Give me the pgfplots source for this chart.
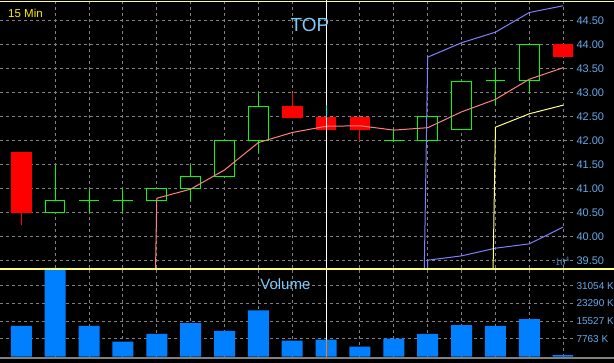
\documentclass[border=0pt]{standalone}
\usepackage{fontspec}
\setmainfont{Liberation Sans}
\usepackage{pgfplots}
\pgfplotsset{compat=1.18}
\definecolor{gridgray}{RGB}{128,128,128}
\definecolor{bull}{RGB}{0,255,0}
\definecolor{bear}{RGB}{255,0,0}
\definecolor{mapink}{RGB}{255,128,128}
\definecolor{bandblue}{RGB}{128,128,255}
\definecolor{bandyellow}{RGB}{255,255,128}
\definecolor{volblue}{RGB}{0,128,255}
\definecolor{ticklab}{RGB}{100,170,235}
\definecolor{titleblue}{RGB}{125,200,245}
\definecolor{sepyellow}{RGB}{255,255,128}
\definecolor{xorcyan}{RGB}{0,255,255}
\definecolor{xororange}{RGB}{255,127,0}

\pgfplotsset{
  panel/.style={
    scale only axis, width=573pt,
    xmin=-0.629, xmax=16.29,
    xtick={1,...,16}, xticklabels={},
    yticklabel pos=right,
    grid=major,
    major grid style={gridgray, line width=1pt, dash pattern=on 3pt off 3pt},
    major tick length=0pt,
    axis line style={draw=none},
  },
  bullline/.style={draw=bull, line width=1pt, mark=none},
  bearline/.style={draw=bear, line width=1pt, mark=none},
}

\begin{document}
\begin{tikzpicture}
\fill[black] (0,0) rectangle (614pt,363pt);

% ---------------- price panel ----------------
\begin{axis}[panel, name=main, at={(0,95pt)}, anchor=south west, height=268pt,
  ymin=39.348, ymax=44.931,
  ytick={39.5,40,40.5,41,41.5,42,42.5,43,43.5,44,44.5},
  yticklabels={39.50,40.00,40.50,41.00,41.50,42.00,42.50,43.00,43.50,44.00,44.50},
  yticklabel style={font=\fontsize{11}{13}\selectfont, text=ticklab},
]
% ---- wicks (high-low lines) ----
\addplot[bearline] coordinates {(0,40.25) (0,41.75)};
\addplot[bullline] coordinates {(1,40.5) (1,41.5)};
\addplot[bullline] coordinates {(2,40.5) (2,41.0)};
\addplot[bullline] coordinates {(3,40.5) (3,41.0)};
\addplot[bullline] coordinates {(5,40.75) (5,41.5)};
\addplot[bullline] coordinates {(7,41.75) (7,43.0)};
\addplot[bearline] coordinates {(8,42.48) (8,43.0)};
\addplot[bearline] coordinates {(9,42.23) (9,42.75)};
\addplot[bearline] coordinates {(10,42.0) (10,42.48)};
\addplot[bullline] coordinates {(11,42.0) (11,42.25)};
\addplot[bullline] coordinates {(14,42.75) (14,43.5)};
\addplot[bullline] coordinates {(15,43.0) (15,44.0)};
% ---- bearish bodies (filled red) ----
\addplot[bearline, fill=bear] coordinates {(-0.29,40.5) (0.29,40.5) (0.29,41.75) (-0.29,41.75)} --cycle;
\addplot[bearline, fill=bear] coordinates {(7.71,42.48) (8.29,42.48) (8.29,42.72) (7.71,42.72)} --cycle;
\addplot[bearline, fill=bear] coordinates {(8.71,42.23) (9.29,42.23) (9.29,42.48) (8.71,42.48)} --cycle;
\addplot[bearline, fill=bear] coordinates {(9.71,42.23) (10.29,42.23) (10.29,42.48) (9.71,42.48)} --cycle;
\addplot[bearline, fill=bear] coordinates {(15.71,43.75) (16.29,43.75) (16.29,44.0) (15.71,44.0)} --cycle;
% ---- bullish / doji bodies (hollow green) ----
\addplot[bullline, fill=black] coordinates {(0.71,40.5) (1.29,40.5) (1.29,40.75) (0.71,40.75)} --cycle;
\addplot[bullline] coordinates {(1.71,40.75) (2.29,40.75)};
\addplot[bullline] coordinates {(2.71,40.75) (3.29,40.75)};
\addplot[bullline, fill=black] coordinates {(3.71,40.75) (4.29,40.75) (4.29,41.0) (3.71,41.0)} --cycle;
\addplot[bullline, fill=black] coordinates {(4.71,41.0) (5.29,41.0) (5.29,41.25) (4.71,41.25)} --cycle;
\addplot[bullline, fill=black] coordinates {(5.71,41.25) (6.29,41.25) (6.29,42.0) (5.71,42.0)} --cycle;
\addplot[bullline, fill=black] coordinates {(6.71,42.0) (7.29,42.0) (7.29,42.72) (6.71,42.72)} --cycle;
\addplot[bullline] coordinates {(10.71,42.0) (11.29,42.0)};
\addplot[bullline, fill=black] coordinates {(11.71,42.0) (12.29,42.0) (12.29,42.5) (11.71,42.5)} --cycle;
\addplot[bullline, fill=black] coordinates {(12.71,42.23) (13.29,42.23) (13.29,43.23) (12.71,43.23)} --cycle;
\addplot[bullline] coordinates {(13.71,43.25) (14.29,43.25)};
\addplot[bullline, fill=black] coordinates {(14.71,43.25) (15.29,43.25) (15.29,44.0) (14.71,44.0)} --cycle;

% moving average
\addplot[mapink, line width=1pt] coordinates {
 (3,0) (4,40.80) (5,40.99) (6,41.39) (7,41.96) (8,42.17) (9,42.30) (10,42.31)
 (11,42.22) (12,42.27) (13,42.60) (14,42.86) (15,43.28) (16,43.52)};
% upper band
\addplot[bandblue, line width=1pt] coordinates {
 (11,0) (12,43.74) (13,44.04) (14,44.26) (15,44.67) (16,44.81)};
% lower band
\addplot[bandblue, line width=1pt] coordinates {
 (11,0) (12,39.51) (13,39.60) (14,39.76) (15,39.85) (16,40.20)};
% yellow line
\addplot[bandyellow, line width=1pt] coordinates {
 (13,0) (14,42.28) (15,42.56) (16,42.74)};

% crosshair
\addplot[white, line width=1pt] coordinates {(9,39) (9,45)};
\addplot[xorcyan, line width=1pt] coordinates {(9,42.48) (9,42.75)};

\node[anchor=base west, text=yellow, font=\fontsize{11.5}{13}\selectfont] at (rel axis cs:0.0082,0.934) {15 Min};
\node[anchor=base, text=titleblue, font=\fontsize{19}{22}\selectfont] at (rel axis cs:0.541,0.884) {TOP};
\end{axis}

% ---------------- volume panel ----------------
\begin{axis}[panel, name=vol, at={(0,6.3pt)}, anchor=south west, height=88.7pt,
  ymin=0, ymax=38817,
  ytick={7763.5,15527,23290.5,31054},
  yticklabels={7763 K,15527 K,23290 K,31054 K},
  yticklabel style={font=\fontsize{10}{12}\selectfont, text=ticklab},
]
\addplot[ybar, bar width=0.62, fill=volblue, draw=none] coordinates {
 (0,13440) (1,38817) (2,13440) (3,6577) (4,10008) (5,14726) (6,11295) (7,20302)
 (8,7006) (9,7435) (10,4432) (11,7863) (12,10008) (13,13868) (14,13440) (15,16442) (16,700)};
\addplot[white, line width=1pt] coordinates {(9,0) (9,40000)};
\addplot[xororange, line width=1pt] coordinates {(9,0) (9,7435)};
\node[anchor=base, text=titleblue, font=\fontsize{15}{17}\selectfont] at (rel axis cs:0.498,0.763) {Volume};
\end{axis}

\draw[sepyellow, line width=1.5pt] (0,361.3pt) -- (614pt,361.3pt);
\draw[sepyellow, line width=2pt] (0,94.3pt) -- (614pt,94.3pt);
\draw[gridgray, line width=2pt] (0,5pt) -- (614pt,5pt);

\pgfresetboundingbox
\useasboundingbox (0,0) rectangle (614pt,363pt);
\end{tikzpicture}
\end{document}
